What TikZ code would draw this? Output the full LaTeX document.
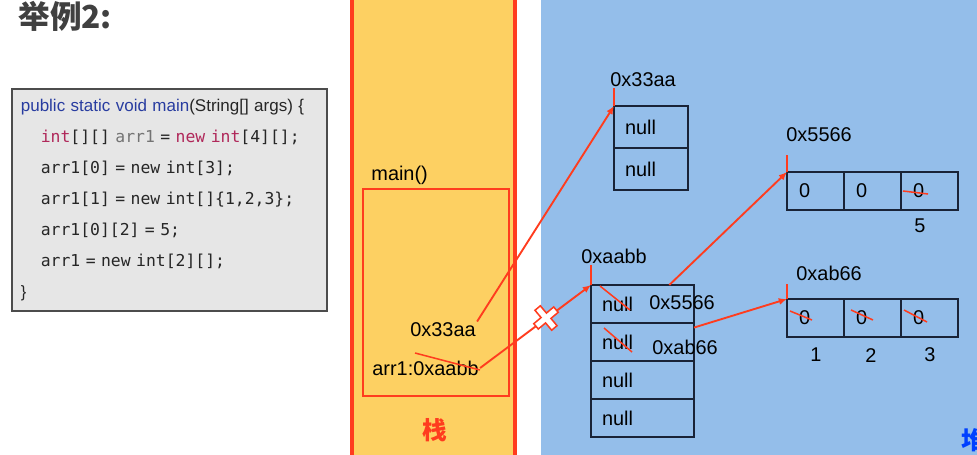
\documentclass[tikz,border=0pt]{standalone}
\usepackage{fontspec}
\setmainfont{Liberation Sans}
\setmonofont{DejaVu Sans Mono}
\newfontfamily\cjk{Noto Sans CJK SC}
\usetikzlibrary{arrows.meta, positioning, calc}

\definecolor{stackyellow}{RGB}{253,208,98}
\definecolor{heapblue}{RGB}{148,190,234}
\definecolor{linered}{RGB}{255,60,30}
\definecolor{codegray}{RGB}{230,230,230}
\definecolor{keyblue}{RGB}{40,60,160}
\definecolor{keyred}{RGB}{176,40,90}
\definecolor{cellline}{RGB}{25,35,55}

\tikzset{
	cell/.style = {draw=cellline, line width=1.1pt, outer sep=0pt, inner ysep=0pt, align=left},
	cellobj/.style = {cell, minimum height=1.26cm, text width=1.56cm, inner xsep=0.33cm},
	cellref/.style = {cell, minimum height=1.14cm, text width=2.43cm, inner xsep=0.33cm},
	cellint/.style = {cell, minimum height=1.14cm, text width=0.99cm, inner xsep=0.36cm},
	ref/.style = {draw=linered, line width=1.6pt, -{Latex[length=7pt, width=6pt]}},
	tick/.style = {draw=linered, line width=1.6pt},
	strike/.style = {draw=linered, line width=1.3pt}
}

\begin{document}
\begin{tikzpicture}[x=0.03cm, y=-0.03cm, inner sep=1pt, font=\fontsize{17}{20}\selectfont]
	\useasboundingbox (0,0) rectangle (977,455);
	\fill[white] (0,0) rectangle (977,455);
	\fill[heapblue] (541,0) rectangle (977,455);
	\fill[stackyellow] (352,-5) rectangle (515,460);
	\draw[linered, line width=3pt] (352,-5) -- (352,460) (515,-5) -- (515,460);

	\node[anchor=west, text=black!75, font=\cjk\bfseries\fontsize{27}{27}\selectfont] (title) at (17,16) {举例2:};
	\node[anchor=north west, draw=black!70, line width=1.5pt, fill=codegray, align=left, text width=8.91cm, inner xsep=0.27cm, minimum height=6.66cm, text=black!85, font=\fontsize{14}{26.4}\selectfont] (code) at (11,88) {%
		{\fontsize{14.5}{26.4}\selectfont{\color{keyblue}public static void main}(String[] args) \{}\\
		\hspace*{17pt}{\ttfamily{\color{keyred}int}[][] {\color{black!55}arr1} = {\color{keyred}new} {\color{keyred}int}[4][];}\\
		\hspace*{17pt}{\ttfamily arr1[0] = new int[3];}\\
		\hspace*{17pt}{\ttfamily arr1[1] = new int[]\{1,2,3\};}\\
		\hspace*{17pt}{\ttfamily arr1[0][2] = 5;}\\
		\hspace*{17pt}{\ttfamily arr1 = new int[2][];}\\
		\}};

	\node[anchor=west] (mainlbl) at (370,175) {main()};
	\node[draw=linered, line width=1.4pt, anchor=north west, minimum width=4.38cm, minimum height=6.21cm] (mainframe) at (362,188) {};
	\node (v33) at (443,330) {0x33aa};
	\node[anchor=west] (vaabb) at (371,368) {arr1:0xaabb};
	\node[text=linered, font=\cjk\bfseries\fontsize{21}{21}\selectfont] (stacklbl) at (435,430) {栈};
	\node[anchor=west, text=blue!75!cyan, font=\cjk\bfseries\fontsize{21}{21}\selectfont] (heaplbl) at (960,440) {堆};

	\node[cellobj, anchor=north west] (a1) at (614,106) {null};
	\node[cellobj, below=0pt of a1] (a2) {null};
	\node[anchor=west] (a33lbl) at (609,80) {0x33aa};

	\node[cellref, anchor=north west] (b1) at (591,285) {null};
	\node[cellref, below=0pt of b1] (b2) {null};
	\node[cellref, below=0pt of b2] (b3) {null};
	\node[cellref, below=0pt of b3] (b4) {null};
	\node[anchor=west] (aabblbl) at (580,256) {0xaabb};
	\node[anchor=west] (b1val) at (648,303) {0x5566};
	\node[anchor=west] (b2val) at (651,347) {0xab66};

	\node[cellint, anchor=north west] (c1) at (787,172) {0};
	\node[cellint, right=0pt of c1] (c2) {0};
	\node[cellint, right=0pt of c2] (c3) {0};
	\node[anchor=west] (c5566lbl) at (785,135) {0x5566};
	\node (five) at (920,226) {5};

	\node[cellint, anchor=north west] (d1) at (787,299) {0};
	\node[cellint, right=0pt of d1] (d2) {0};
	\node[cellint, right=0pt of d2] (d3) {0};
	\node[anchor=west] (dab66lbl) at (795,273) {0xab66};
	\node (one) at (816,355) {1};
	\node (two) at (871,356) {2};
	\node (three) at (930,355) {3};

	\draw[tick] (a1.north west) -- ++(0,-18);
	\draw[tick] (b1.north west) -- ++(0,-20);
	\draw[tick] (c1.north west) -- ++(0,-17);
	\draw[tick] (d1.north west) -- ++(0,-15);

	\draw[ref] (v33.north east) -- (a1.north west);
	\draw[ref] (vaabb.east) -- (b1.north west);
	\draw[ref] ($(b1.north west)!0.76!(b1.north east)$) -- (c1.north west);
	\draw[ref] ($(b2.north east)!0.12!(b2.south east)$) -- (d1.north west);

	\draw[strike] (415,353) -- (480,370);
	\draw[strike] (600,286) -- (630,310);
	\draw[strike] (604,328) -- (632,352);
	\draw[strike] (903,191) -- (928,194);
	\draw[strike] (790,311) -- (812,320);
	\draw[strike] (851,310) -- (873,320);
	\draw[strike] (904,310) -- (927,322);

	\draw[linered, line width=1.3pt, fill=white, shift={(546,318)}, rotate=40] (-3.5,-13) -- (3.5,-13) -- (3.5,-3.5) -- (13,-3.5) -- (13,3.5) -- (3.5,3.5) -- (3.5,13) -- (-3.5,13) -- (-3.5,3.5) -- (-13,3.5) -- (-13,-3.5) -- (-3.5,-3.5) -- cycle;
\end{tikzpicture}
\end{document}
